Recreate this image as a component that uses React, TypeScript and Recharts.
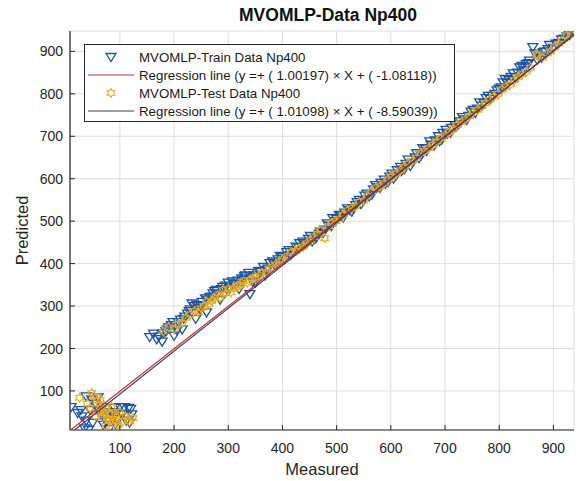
import { ScatterChart, Scatter, XAxis, YAxis, CartesianGrid, Legend } from 'recharts'

const FONT = 'Arial, "Liberation Sans", Helvetica, sans-serif'

const xTicks = [100, 200, 300, 400, 500, 600, 700, 800, 900]
const yTicks = [100, 200, 300, 400, 500, 600, 700, 800, 900]

const trainMeasured = [
    10, 22, 30, 38, 35, 42, 38, 48, 55, 60, 65, 70, 75, 80, 85, 90, 95, 100, 108, 116, 112, 118, 122, 60, 50,
    45, 68, 78, 92, 104, 90, 120, 70, 28,
    155, 168, 178, 180, 185, 190, 195, 198, 200, 205, 212, 215, 220, 225, 228, 233, 238, 240, 245, 250, 252, 258, 260,
    266, 272, 275, 280, 285, 288, 295, 300, 303, 310, 318, 320, 325, 330, 332, 340, 345, 350, 352, 360, 368, 370,
    377, 385, 390, 392, 400, 408, 415, 425, 432, 440, 448, 455, 463, 470, 478, 485, 493, 500, 508, 515, 524, 530,
    538, 545, 552, 560, 568, 575, 582, 590, 598, 605, 612, 620, 628, 636, 645, 652, 659, 666, 674, 682, 690, 696,
    704, 712, 720, 728, 736, 744, 752, 760, 768, 776, 784, 792, 800, 807, 815, 822, 830, 838, 845, 850, 856, 862,
    870, 878, 885, 893, 900, 910, 920, 930, 938,
    162, 172, 188, 202, 208, 218, 230, 242, 248, 262, 270, 278, 290, 298, 308, 315, 328, 338, 348, 356, 365, 374,
    382, 396, 404, 412, 420, 430, 438, 445, 452, 460, 468, 475, 483, 490, 498, 505, 512, 520, 528, 535, 542, 550,
    556, 565, 572, 580, 588, 595, 602, 610, 618, 625, 632, 640, 648, 656, 664, 672, 680, 688, 694, 702, 710, 718,
    725, 732, 740, 748, 756, 764, 772, 780, 788, 796, 804, 811, 818, 826, 834, 842, 848, 854, 866, 874, 882, 890,
    905, 915, 925,
]
const trainPredicted = [
    62, 48, 40, 30, 12, 8, 87, 80, 70, 55, 45, 38, 28, 10, 50, 40, 35, 62, 62, 60, 30, 25, 45, 85, 25,
    55, 62, 50, 22, 45, 60, 58, 20, 55,
    227, 222, 216, 236, 240, 250, 255, 262, 230, 243, 268, 245, 275, 282, 288, 306, 300, 270, 295, 300, 310, 318, 285,
    321, 330, 335, 328, 315, 340, 348, 355, 342, 352, 360, 340, 365, 370, 372, 328, 357, 355, 368, 380, 372, 385,
    401, 398, 400, 410, 415, 427, 420, 440, 448, 445, 458, 452, 462, 475, 480, 490, 507, 505, 512, 520, 526, 530,
    545, 540, 560, 558, 575, 580, 590, 588, 605, 600, 620, 618, 635, 630, 650, 648, 672, 665, 680, 690, 688, 708,
    705, 720, 722, 735, 740, 748, 762, 765, 772, 790, 788, 800, 812, 827, 825, 840, 838, 862, 855, 870, 878, 910,
    880, 885, 900, 915, 908, 920, 930, 938, 945,
    235, 228, 245, 255, 262, 270, 292, 302, 292, 315, 322, 338, 345, 338, 358, 352, 362, 378, 372, 383, 392, 388,
    405, 418, 410, 432, 428, 438, 452, 448, 465, 458, 470, 472, 495, 488, 500, 515, 508, 530, 522, 538, 550, 548,
    565, 562, 585, 578, 598, 592, 612, 608, 628, 622, 645, 638, 660, 655, 670, 688, 678, 700, 692, 715, 708, 728,
    728, 745, 738, 758, 755, 780, 778, 795, 795, 808, 815, 835, 832, 848, 850, 866, 862, 872, 895, 890, 898, 905,
    918, 928, 935,
]

const testMeasured = [
    26, 48, 52, 58, 62, 66, 70, 72, 78, 82, 88, 92, 96, 105, 110, 115, 124, 55, 45, 85,
    40, 60, 68, 76, 84, 94, 100, 74, 64, 118,
    180, 200, 215, 230, 245, 255, 265, 275, 285, 295, 305, 315, 322, 335, 345, 358, 370, 382, 395, 410, 425, 438,
    452, 465, 478, 490, 505, 520, 535, 550, 565, 580, 595, 610, 625, 640, 655, 670, 685, 700, 715, 730, 745, 760,
    775, 790, 805, 820, 835, 850, 869, 870, 880, 895, 910, 924,
    190, 208, 222, 238, 250, 260, 270, 280, 290, 300, 310, 318, 328, 340, 350, 362, 375, 388, 400, 415, 430, 445,
    458, 470, 485, 498, 512, 528, 542, 557, 572, 588, 602, 618, 632, 648, 662, 678, 692, 708, 722, 738, 752, 768,
    782, 798, 812, 828, 842, 858, 888, 902, 915, 932,
]
const testPredicted = [
    84, 95, 88, 78, 68, 60, 52, 42, 35, 30, 25, 45, 20, 28, 40, 32, 36, 40, 60, 62,
    70, 50, 38, 58, 45, 30, 50, 18, 80, 28,
    240, 245, 260, 280, 285, 300, 305, 318, 320, 330, 332, 345, 350, 355, 365, 372, 380, 392, 405, 418, 430, 440,
    455, 470, 460, 495, 505, 525, 535, 548, 570, 582, 598, 612, 628, 642, 660, 672, 688, 702, 718, 733, 748, 762,
    778, 793, 810, 822, 840, 852, 894, 890, 885, 900, 918, 938,
    250, 258, 272, 288, 295, 310, 312, 325, 338, 340, 342, 348, 358, 362, 368, 378, 388, 398, 410, 425, 435, 448,
    462, 478, 488, 500, 515, 530, 545, 560, 578, 590, 605, 620, 636, 650, 665, 680, 695, 710, 726, 740, 756, 770,
    786, 800, 816, 832, 846, 862, 895, 910, 925, 940,
]

// regression line end points, taken from the plot
const trainLineX = [9.06, 938]
const trainLineY = [8, 938.77]
const testLineX = [16.4, 938]
const testLineY = [8, 939.73]

const legendLabels = [
    'MVOMLP-Train Data Np400',
    'Regression line (y =+ ( 1.00197) × X + ( -1.08118))',
    'MVOMLP-Test Data Np400',
    'Regression line (y =+ ( 1.01098) × X + ( -8.59039))',
]

const TRAIN_COLOR = '#1d55a3'
const TEST_COLOR = '#e9a81e'
const TRAIN_LINE = '#b8322e'
const TEST_LINE = '#463a66'
const AXIS = '#262626'

const zip = (xs: number[], ys: number[]) => xs.map((x, i) => ({ x, y: ys[i] }))

const trainData = zip(trainMeasured, trainPredicted)
const testData = zip(testMeasured, testPredicted)
const trainLine = zip(trainLineX, trainLineY)
const testLine = zip(testLineX, testLineY)

const Triangle = ({ cx, cy }: any) => (
    <path
        d={`M${cx - 5},${cy - 3.5} L${cx + 5},${cy - 3.5} L${cx},${cy + 4.5} Z`}
        fill="none"
        stroke={TRAIN_COLOR}
        strokeWidth={1.3}
    />
)

const hexagramPath = (cx: number, cy: number, r: number) => {
    let d = ''
    for (let i = 0; i < 12; i++) {
        const a = (Math.PI / 6) * i - Math.PI / 2
        const rr = i % 2 === 0 ? r : r * 0.58
        d += `${i === 0 ? 'M' : 'L'}${cx + rr * Math.cos(a)},${cy + rr * Math.sin(a)} `
    }
    return d + 'Z'
}

const Hexagram = ({ cx, cy }: any) => (
    <path d={hexagramPath(cx, cy, 4.5)} fill="none" stroke={TEST_COLOR} strokeWidth={1.1} />
)

const NoDot = () => <g />

const BottomTick = ({ x, y, payload }: any) => (
    <g>
        <line x1={x} y1={y} x2={x} y2={y - 5} stroke={AXIS} strokeWidth={1} />
        <text x={x} y={y + 23} textAnchor="middle" fontSize={14} fontFamily={FONT} fill={AXIS}>
            {payload.value}
        </text>
    </g>
)

const LeftTick = ({ x, y, payload }: any) => (
    <g>
        <line x1={x} y1={y} x2={x + 5} y2={y} stroke={AXIS} strokeWidth={1} />
        <text x={x - 7} y={y + 5} textAnchor="end" fontSize={14} fontFamily={FONT} fill={AXIS}>
            {payload.value}
        </text>
    </g>
)

const TopTick = ({ x, y }: any) => <line x1={x} y1={y} x2={x} y2={y + 5} stroke={AXIS} strokeWidth={1} />
const RightTick = ({ x, y }: any) => <line x1={x} y1={y} x2={x - 5} y2={y} stroke={AXIS} strokeWidth={1} />

const renderLegend = () => {
    const sample = (i: number) => {
        if (i === 0)
            return (
                <svg width={46} height={12}>
                    <path d="M18,2.5 L28,2.5 L23,10.5 Z" fill="none" stroke={TRAIN_COLOR} strokeWidth={1.3} />
                </svg>
            )
        if (i === 2)
            return (
                <svg width={46} height={12}>
                    <path d={hexagramPath(23, 6, 4.5)} fill="none" stroke={TEST_COLOR} strokeWidth={1.1} />
                </svg>
            )
        return (
            <svg width={46} height={12}>
                <line x1={0} y1={6} x2={46} y2={6} stroke={i === 1 ? TRAIN_LINE : TEST_LINE} strokeWidth={1.2} />
            </svg>
        )
    }
    return (
        <div style={{
            width: 371,
            height: 78,
            border: `1px solid ${AXIS}`,
            background: '#fff',
            boxSizing: 'border-box',
            padding: '3px 0 0 3px',
            fontFamily: FONT,
            fontSize: 13.3,
            color: '#1a1a1a',
        }}>
            {legendLabels.map((label, i) => (
                <div key={`legend-${i}`} style={{ display: 'flex', alignItems: 'center', height: 18, gap: 5, whiteSpace: 'nowrap' }}>
                    {sample(i)}
                    <span>{label}</span>
                </div>
            ))}
        </div>
    )
}

export default function App() {
    return (
        <div style={{ position: 'absolute', left: 0, top: 0, width: 585, height: 481, background: '#fff' }}>
            <div style={{
                position: 'absolute',
                left: 0,
                width: 656,
                top: 5,
                textAlign: 'center',
                fontFamily: FONT,
                fontWeight: 700,
                fontSize: 17.5,
                color: '#111',
                zIndex: 2,
            }}>
                MVOMLP-Data Np400
            </div>
            <ScatterChart width={585} height={481} margin={{ top: 31, right: 11, bottom: 1, left: 0 }}>
                <CartesianGrid stroke="#dedede" strokeWidth={1} />
                <XAxis
                    type="number"
                    dataKey="x"
                    domain={[8, 938]}
                    ticks={xTicks}
                    allowDataOverflow
                    height={50}
                    tickSize={0}
                    tickMargin={0}
                    tick={<BottomTick />}
                    axisLine={{ stroke: AXIS, strokeWidth: 1.2 }}
                    tickLine={false}
                    label={{ value: 'Measured', position: 'insideBottom', offset: 5, fontSize: 16.5, fontFamily: FONT, fill: AXIS }}
                />
                <XAxis
                    xAxisId="top"
                    orientation="top"
                    type="number"
                    dataKey="x"
                    domain={[8, 938]}
                    ticks={xTicks}
                    allowDataOverflow
                    height={0}
                    tickSize={0}
                    tick={<TopTick />}
                    axisLine={{ stroke: AXIS, strokeWidth: 1.2 }}
                    tickLine={false}
                />
                <YAxis
                    type="number"
                    dataKey="y"
                    domain={[8, 948]}
                    ticks={yTicks}
                    allowDataOverflow
                    width={70}
                    tickSize={0}
                    tickMargin={0}
                    tick={<LeftTick />}
                    axisLine={{ stroke: AXIS, strokeWidth: 1.2 }}
                    tickLine={false}
                    label={{ value: 'Predicted', angle: -90, position: 'insideLeft', offset: 22, fontSize: 16.5, fontFamily: FONT, fill: AXIS, style: { textAnchor: 'middle' } }}
                />
                <YAxis
                    yAxisId="right"
                    orientation="right"
                    type="number"
                    dataKey="y"
                    domain={[8, 948]}
                    ticks={yTicks}
                    allowDataOverflow
                    width={0}
                    tickSize={0}
                    tick={<RightTick />}
                    axisLine={{ stroke: AXIS, strokeWidth: 1.2 }}
                    tickLine={false}
                />
                <Scatter name="train" data={trainData} shape={<Triangle />} isAnimationActive={false} />
                <Scatter name="test" data={testData} shape={<Hexagram />} isAnimationActive={false} />
                <Scatter
                    name="trainLine"
                    data={trainLine}
                    line={{ stroke: TRAIN_LINE, strokeWidth: 1.2 }}
                    lineType="joint"
                    shape={<NoDot />}
                    isAnimationActive={false}
                />
                <Scatter
                    name="testLine"
                    data={testLine}
                    line={{ stroke: TEST_LINE, strokeWidth: 1.2 }}
                    lineType="joint"
                    shape={<NoDot />}
                    isAnimationActive={false}
                />
                <Legend
                    layout="vertical"
                    align="center"
                    verticalAlign="middle"
                    content={renderLegend}
                    wrapperStyle={{ left: 84, top: 44, width: 371, height: 78 }}
                />
            </ScatterChart>
        </div>
    )
}
